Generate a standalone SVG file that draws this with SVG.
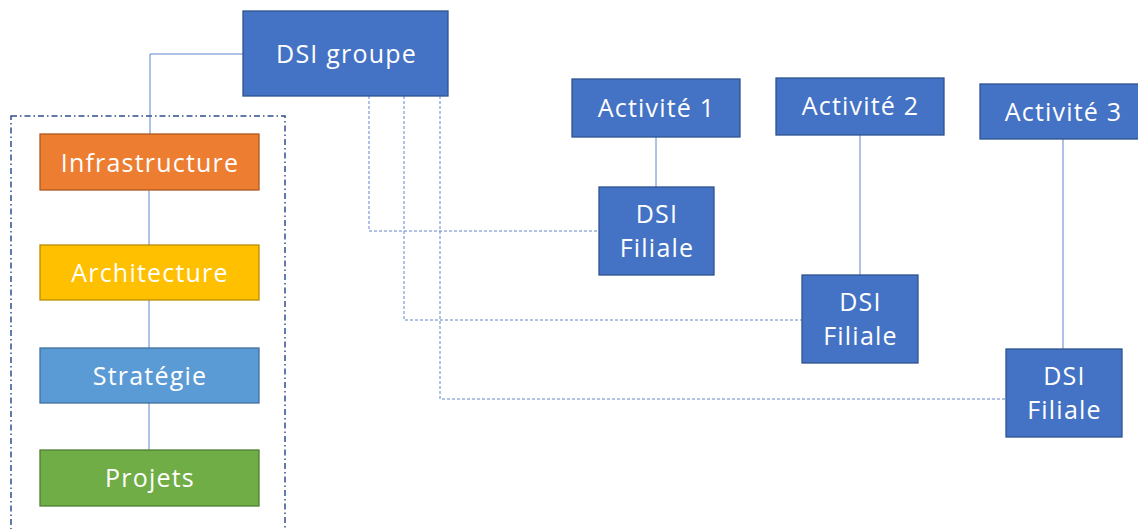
<svg xmlns="http://www.w3.org/2000/svg" width="1138" height="529" viewBox="0 0 1138 529">
<style>
.lbl{font-family:"Open Sans","Noto Sans",sans-serif;font-size:25px;letter-spacing:1.2px;fill:#fff;text-anchor:middle}
.blue{fill:#4472C4;stroke:#2F528F;stroke-width:1.3}
.solid{stroke:#4472C4;stroke-width:1;fill:none;opacity:0.85}
.dash{stroke:#4472C4;stroke-width:1;fill:none;stroke-dasharray:3 2;opacity:0.85}
</style>
<rect width="1138" height="529" fill="#fff"/>
<rect id="frame" x="11" y="116" width="274" height="430" fill="none" stroke="#2F4F8F" stroke-width="1.5" stroke-dasharray="6 3 1.5 3"/>
<g id="connectors">
<polyline class="solid" points="243,54 150,54 150,134"/>
<line class="solid" x1="149" y1="190" x2="149" y2="249"/>
<line class="solid" x1="149" y1="300" x2="149" y2="352"/>
<line class="solid" x1="149" y1="397" x2="149" y2="453"/>
<polyline class="dash" points="369,96 369,231 599,231"/>
<polyline class="dash" points="404,96 404,320 802,320"/>
<polyline class="dash" points="440,96 440,399 1006,399"/>
<line class="solid" x1="656" y1="137" x2="656" y2="187"/>
<line class="solid" x1="860" y1="135" x2="860" y2="275"/>
<line class="solid" x1="1063" y1="139" x2="1063" y2="349"/>
</g>
<g id="dsi-groupe"><rect class="blue" x="243" y="11" width="205" height="85"/><text class="lbl" x="346.5" y="63" font-size="26">DSI groupe</text></g>
<g id="infrastructure"><rect x="40" y="134" width="219" height="56" fill="#ED7D31" stroke="#AE5A21" stroke-width="1.3"/><text class="lbl" x="150" y="172">Infrastructure</text></g>
<g id="architecture"><rect x="40" y="245" width="219" height="55" fill="#FFC000" stroke="#BC8C00" stroke-width="1.3"/><text class="lbl" x="150" y="282">Architecture</text></g>
<g id="strategie"><rect x="40" y="348" width="219" height="55" fill="#5B9BD5" stroke="#41719C" stroke-width="1.3"/><text class="lbl" x="150" y="385">Stratégie</text></g>
<g id="projets"><rect x="40" y="450" width="219" height="56" fill="#70AD47" stroke="#507E32" stroke-width="1.3"/><text class="lbl" x="150" y="487">Projets</text></g>
<g id="activite1"><rect class="blue" x="572" y="79" width="168" height="58"/><text class="lbl" x="656.5" y="117">Activité 1</text></g>
<g id="activite2"><rect class="blue" x="776" y="78" width="168" height="57"/><text class="lbl" x="860.5" y="115">Activité 2</text></g>
<g id="activite3"><rect class="blue" x="980" y="84" width="162" height="55"/><text class="lbl" x="1063.5" y="121">Activité 3</text></g>
<g id="dsi-filiale1"><rect class="blue" x="599" y="187" width="115" height="88"/><text class="lbl" x="657" y="223">DSI</text><text class="lbl" x="657" y="257">Filiale</text></g>
<g id="dsi-filiale2"><rect class="blue" x="802" y="275" width="116" height="88"/><text class="lbl" x="860.5" y="311">DSI</text><text class="lbl" x="860.5" y="345">Filiale</text></g>
<g id="dsi-filiale3"><rect class="blue" x="1006" y="349" width="116" height="88"/><text class="lbl" x="1064.5" y="385">DSI</text><text class="lbl" x="1064.5" y="419">Filiale</text></g>
</svg>
